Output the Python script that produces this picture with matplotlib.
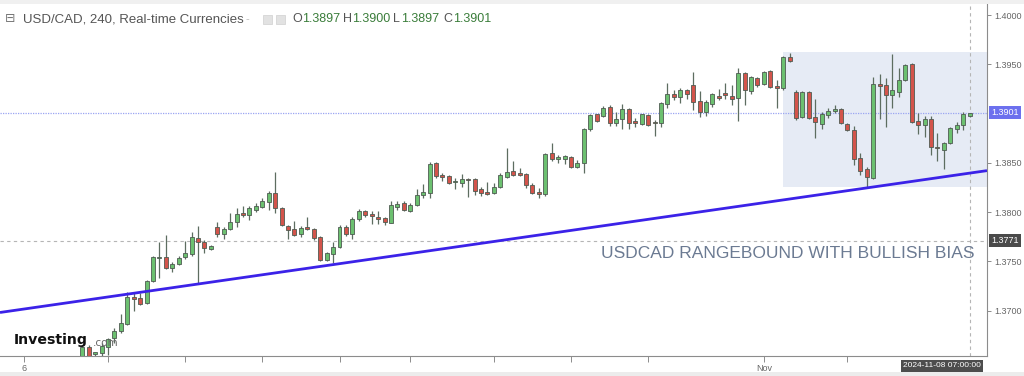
import numpy as np
import matplotlib.pyplot as plt
from matplotlib.patches import Rectangle

# USD/CAD 4h candles, oldest first
opens = [1.3645, 1.3663, 1.3656, 1.3657, 1.3663, 1.3672, 1.3679, 1.3686, 1.3714, 1.3713,
         1.3708, 1.3730, 1.3753, 1.3754, 1.3743, 1.3747, 1.3754, 1.3757, 1.3774, 1.3770,
         1.3762, 1.3785, 1.3778, 1.3783, 1.3790, 1.3798, 1.3797, 1.3802, 1.3805, 1.3810,
         1.3819, 1.3804, 1.3786, 1.3783, 1.3778, 1.3784, 1.3783, 1.3775, 1.3751, 1.3757,
         1.3764, 1.3785, 1.3778, 1.3793, 1.3801, 1.3798, 1.3795, 1.3794, 1.3789, 1.3805,
         1.3809, 1.3801, 1.3807, 1.3817, 1.3819, 1.3850, 1.3838, 1.3837, 1.3830, 1.3829,
         1.3834, 1.3834, 1.3823, 1.3820, 1.3819, 1.3825, 1.3836, 1.3842, 1.3839, 1.3839,
         1.3827, 1.3820, 1.3818, 1.3860, 1.3854, 1.3854, 1.3856, 1.3846, 1.3850, 1.3884,
         1.3899, 1.3897, 1.3907, 1.3890, 1.3894, 1.3905, 1.3892, 1.3889, 1.3898, 1.3891,
         1.3890, 1.3910, 1.3920, 1.3917, 1.3924, 1.3929, 1.3913, 1.3902, 1.3910, 1.3918,
         1.3920, 1.3918, 1.3916, 1.3941, 1.3923, 1.3936, 1.3930, 1.3943, 1.3927, 1.3926,
         1.3957, 1.3922, 1.3896, 1.3922, 1.3896, 1.3889, 1.3898, 1.3903, 1.3905, 1.3889,
         1.3883, 1.3855, 1.3844, 1.3835, 1.3930, 1.3929, 1.3919, 1.3922, 1.3934, 1.3950,
         1.3892, 1.3888, 1.3894, 1.3866, 1.3863, 1.3870, 1.3884, 1.3888, 1.3897]
highs = [1.3665, 1.3665, 1.3658, 1.3667, 1.3672, 1.3682, 1.3696, 1.3719, 1.3718, 1.3718,
         1.3731, 1.3755, 1.3770, 1.3777, 1.3749, 1.3755, 1.3771, 1.3780, 1.3786, 1.3772,
         1.3766, 1.3790, 1.3785, 1.3799, 1.3804, 1.3806, 1.3806, 1.3809, 1.3814, 1.3821,
         1.3841, 1.3805, 1.3787, 1.3791, 1.3786, 1.3795, 1.3784, 1.3776, 1.3759, 1.3770,
         1.3787, 1.3787, 1.3795, 1.3803, 1.3802, 1.3801, 1.3801, 1.3795, 1.3811, 1.3811,
         1.3811, 1.3809, 1.3823, 1.3828, 1.3851, 1.3851, 1.3840, 1.3838, 1.3835, 1.3839,
         1.3835, 1.3835, 1.3825, 1.3830, 1.3829, 1.3840, 1.3865, 1.3852, 1.3845, 1.3840,
         1.3829, 1.3824, 1.3860, 1.3870, 1.3858, 1.3858, 1.3857, 1.3853, 1.3885, 1.3899,
         1.3900, 1.3908, 1.3909, 1.3902, 1.3910, 1.3906, 1.3895, 1.3900, 1.3899, 1.3893,
         1.3912, 1.3931, 1.3924, 1.3926, 1.3925, 1.3942, 1.3923, 1.3914, 1.3921, 1.3925,
         1.3931, 1.3929, 1.3946, 1.3942, 1.3938, 1.3937, 1.3943, 1.3944, 1.3934, 1.3958,
         1.3961, 1.3924, 1.3923, 1.3923, 1.3915, 1.3902, 1.3906, 1.3909, 1.3906, 1.3890,
         1.3887, 1.3860, 1.3846, 1.3937, 1.3940, 1.3936, 1.3960, 1.3946, 1.3950, 1.3951,
         1.3901, 1.3897, 1.3897, 1.3880, 1.3871, 1.3886, 1.3891, 1.3902, 1.3901]
lows = [1.3645, 1.3645, 1.3654, 1.3654, 1.3655, 1.3667, 1.3677, 1.3685, 1.3700, 1.3706,
        1.3707, 1.3729, 1.3733, 1.3742, 1.3739, 1.3746, 1.3752, 1.3755, 1.3728, 1.3758,
        1.3761, 1.3775, 1.3773, 1.3782, 1.3785, 1.3795, 1.3792, 1.3800, 1.3804, 1.3802,
        1.3799, 1.3786, 1.3773, 1.3776, 1.3775, 1.3782, 1.3772, 1.3750, 1.3750, 1.3748,
        1.3763, 1.3776, 1.3773, 1.3791, 1.3795, 1.3788, 1.3788, 1.3787, 1.3789, 1.3802,
        1.3801, 1.3800, 1.3806, 1.3814, 1.3814, 1.3835, 1.3831, 1.3828, 1.3823, 1.3825,
        1.3815, 1.3817, 1.3816, 1.3817, 1.3818, 1.3824, 1.3835, 1.3837, 1.3837, 1.3824,
        1.3818, 1.3814, 1.3816, 1.3852, 1.3850, 1.3849, 1.3845, 1.3845, 1.3840, 1.3882,
        1.3891, 1.3896, 1.3887, 1.3887, 1.3884, 1.3884, 1.3886, 1.3888, 1.3887, 1.3877,
        1.3886, 1.3906, 1.3914, 1.3911, 1.3915, 1.3904, 1.3896, 1.3897, 1.3907, 1.3914,
        1.3915, 1.3909, 1.3892, 1.3909, 1.3920, 1.3927, 1.3929, 1.3926, 1.3906, 1.3924,
        1.3952, 1.3893, 1.3895, 1.3894, 1.3875, 1.3884, 1.3895, 1.3901, 1.3889, 1.3882,
        1.3848, 1.3838, 1.3824, 1.3834, 1.3894, 1.3886, 1.3906, 1.3917, 1.3933, 1.3890,
        1.3879, 1.3876, 1.3858, 1.3852, 1.3844, 1.3869, 1.3880, 1.3883, 1.3896]
closes = [1.3663, 1.3648, 1.3657, 1.3664, 1.3671, 1.3679, 1.3687, 1.3714, 1.3712, 1.3707,
          1.3730, 1.3754, 1.3754, 1.3743, 1.3747, 1.3753, 1.3758, 1.3775, 1.3770, 1.3763,
          1.3765, 1.3778, 1.3783, 1.3790, 1.3798, 1.3797, 1.3804, 1.3806, 1.3811, 1.3819,
          1.3804, 1.3787, 1.3782, 1.3777, 1.3784, 1.3783, 1.3774, 1.3751, 1.3758, 1.3764,
          1.3785, 1.3778, 1.3793, 1.3801, 1.3797, 1.3796, 1.3793, 1.3790, 1.3807, 1.3808,
          1.3802, 1.3807, 1.3817, 1.3820, 1.3849, 1.3837, 1.3836, 1.3829, 1.3831, 1.3834,
          1.3832, 1.3821, 1.3819, 1.3818, 1.3825, 1.3838, 1.3841, 1.3838, 1.3838, 1.3827,
          1.3819, 1.3818, 1.3859, 1.3854, 1.3856, 1.3857, 1.3846, 1.3850, 1.3884, 1.3898,
          1.3892, 1.3906, 1.3890, 1.3894, 1.3905, 1.3890, 1.3890, 1.3899, 1.3888, 1.3890,
          1.3911, 1.3920, 1.3917, 1.3924, 1.3920, 1.3912, 1.3902, 1.3912, 1.3920, 1.3916,
          1.3919, 1.3915, 1.3941, 1.3924, 1.3937, 1.3929, 1.3942, 1.3927, 1.3926, 1.3957,
          1.3953, 1.3895, 1.3922, 1.3895, 1.3891, 1.3899, 1.3903, 1.3904, 1.3890, 1.3883,
          1.3854, 1.3842, 1.3836, 1.3930, 1.3928, 1.3919, 1.3924, 1.3934, 1.3949, 1.3891,
          1.3888, 1.3894, 1.3866, 1.3865, 1.3870, 1.3885, 1.3888, 1.3899, 1.3901]

x_ticks = [-9, 4, 16, 28, 40, 51, 64, 76, 88, 106, 119]
x_tick_labels = ['6', '', '', '', '', '', '', '', '', 'Nov', '']
y_ticks = [1.3700, 1.3750, 1.3800, 1.3850, 1.3950, 1.4000]

last_price = 1.3901
cross_price = 1.3771
cross_index = 138
cross_date = '2024-11-08 07:00:00'

# support line and consolidation box
trend_x = [-12.8, 140.7]
trend_y = [1.3698, 1.3842]
range_start = 108.9
range_low = 1.3825
range_high = 1.3962

header_name = 'USD/CAD, 240, Real-time Currencies'
ohlc_text = [('O', '1.3897'), ('H', '1.3900'), ('L', '1.3897'), ('C', '1.3901')]
note = 'USDCAD RANGEBOUND WITH BULLISH BIAS'

W, H = 1024, 376
fig = plt.figure(figsize=(W / 100, H / 100), dpi=100)
fig.patch.set_facecolor('white')
ax = fig.add_axes([0, 20 / H, 987 / W, 352 / H])

xlo, xhi = -12.8, 140.7
ax.set_xlim(xlo, xhi)
ax.set_ylim(1.365381, 1.401117)

# range box
ax.add_patch(Rectangle((range_start, range_low), xhi - range_start, range_high - range_low,
                       facecolor='#e6ebf5', edgecolor='none', zorder=0))

# reference lines
ax.axhline(last_price, color='#9aa4f2', lw=0.9, ls=(0, (1, 1)), zorder=1)
ax.axhline(cross_price, color='#b5b5b5', lw=0.8, ls=(0, (3, 3)), zorder=1)
ax.axvline(cross_index, color='#b5b5b5', lw=0.8, ls=(0, (3, 3)), zorder=1)

# candles
idx = np.arange(len(opens))
o = np.array(opens)
c = np.array(closes)
up = c >= o
cols = np.where(up, '#6cc070', '#d3544b')
ax.vlines(idx, lows, highs, color='#5d6d60', lw=0.9, zorder=3)
body_lo = np.minimum(o, c)
body_h = np.maximum(np.abs(c - o), 0.00015)
ax.bar(idx, body_h, bottom=body_lo, width=0.62, color=cols,
       edgecolor='#4f5b52', linewidth=0.6, zorder=4)

# support trend line
ax.plot(trend_x, trend_y, color='#3b22e8', lw=2, zorder=5, solid_capstyle='butt')

ax.text(0.9878, 0.2926, note, transform=ax.transAxes, ha='right', va='center',
        fontsize=12.5, color='#6b7a92', family='Liberation Sans', zorder=6)

# axes styling
for s in ['top', 'left']:
    ax.spines[s].set_visible(False)
ax.spines['right'].set_color('#8c8c8c')
ax.spines['bottom'].set_color('#8c8c8c')
ax.spines['right'].set_linewidth(0.8)
ax.spines['bottom'].set_linewidth(0.8)
ax.yaxis.tick_right()
ax.set_yticks(y_ticks)
ax.set_yticklabels([f'{v:.4f}' for v in y_ticks])
ax.set_xticks(x_ticks)
ax.set_xticklabels(x_tick_labels)
ax.tick_params(axis='y', length=3, width=0.7, color='#8c8c8c', labelsize=6.5,
               labelcolor='#666666', pad=2)
ax.tick_params(axis='x', length=4, width=0.7, color='#8c8c8c', labelsize=6.5,
               labelcolor='#666666', pad=2)
for t in ax.get_xticklabels() + ax.get_yticklabels():
    t.set_family('Liberation Sans')

# price boxes on the right axis
ax.annotate(f'{last_price:.4f}', xy=(1, last_price), xycoords=('axes fraction', 'data'),
            xytext=(3, 0), textcoords='offset points', ha='left', va='center',
            fontsize=6.5, color='white', family='Liberation Sans', annotation_clip=False,
            bbox=dict(boxstyle='square,pad=0.25', fc='#6c70ee', ec='none'))
ax.annotate(f'{cross_price:.4f}', xy=(1, cross_price), xycoords=('axes fraction', 'data'),
            xytext=(3, 0), textcoords='offset points', ha='left', va='center',
            fontsize=6.5, color='white', family='Liberation Sans', annotation_clip=False,
            bbox=dict(boxstyle='square,pad=0.25', fc='#4a4a4a', ec='none'))

# date box under the crosshair
fig.text(942 / W, 1 - 365.5 / H, cross_date, ha='center', va='center', fontsize=6,
         color='white', family='Liberation Sans',
         bbox=dict(boxstyle='square,pad=0.3', fc='#4d4d4d', ec='none'))

# top and bottom grey bands
fig.patches.append(Rectangle((0, 1 - 4 / H), 1, 4 / H, transform=fig.transFigure,
                             facecolor='#f0f0f0', edgecolor='none', zorder=0))
fig.patches.append(Rectangle((0, 0), 1, 4 / H, transform=fig.transFigure,
                             facecolor='#ececec', edgecolor='none', zorder=0))

# header line
hy = 1 - 19 / H
fig.text(5 / W, hy, '\u229f', fontsize=9, color='#777777', va='center', family='DejaVu Sans')
fig.text(23 / W, hy, header_name, fontsize=9.5, color='#555555', va='center',
         family='Liberation Sans')
fig.text(245 / W, hy, '-', fontsize=8, color='#bbbbbb', va='center', family='Liberation Sans')
for xi in (263, 276):
    fig.patches.append(Rectangle((xi / W, 1 - 24 / H), 9 / W, 9 / H, transform=fig.transFigure,
                                 facecolor='#e2e2e2', edgecolor='#cfcfcf', lw=0.5))
letter_w = {'O': 10, 'H': 9.5, 'L': 8, 'C': 9.5}
xs = 292
for lab, val in ohlc_text:
    fig.text(xs / W, hy, lab, fontsize=9, color='#555555', va='center',
             family='Liberation Sans')
    fig.text((xs + letter_w[lab]) / W, hy, val, fontsize=9, color='#3a7d3a', va='center',
             family='Liberation Sans')
    xs += 50.5

# investing.com logo
fig.text(14 / W, 1 - 340 / H, 'Investing', fontsize=10.2, fontweight='bold', color='#111111',
         va='center', family='Liberation Sans Narrow')
fig.text(93 / W, 1 - 343.5 / H, '.com', fontsize=7.5, color='#666666', va='center',
         family='Liberation Sans Narrow', zorder=10)

fig.savefig('out.png', dpi=100)
